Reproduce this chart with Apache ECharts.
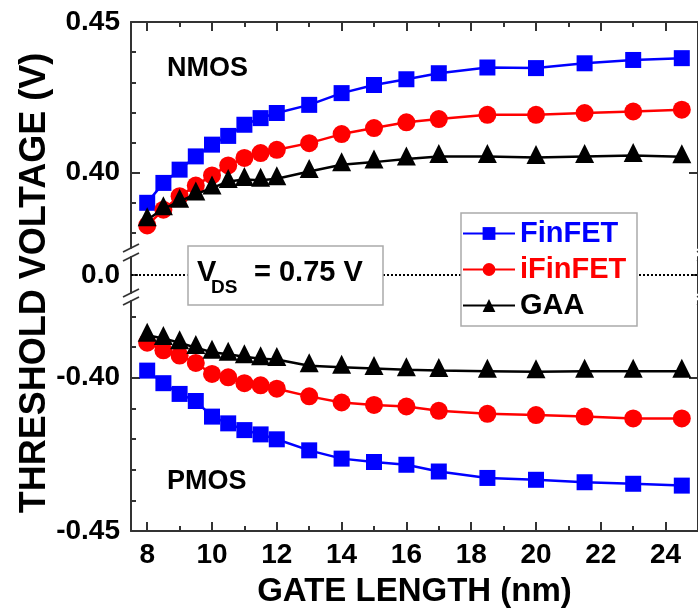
<!DOCTYPE html>
<html>
<head>
<meta charset="utf-8">
<script src="https://cdn.jsdelivr.net/npm/echarts@6/dist/echarts.min.js"></script>
<style>html,body{margin:0;padding:0;background:#fff}#c{width:698px;height:612px}</style>
</head>
<body>
<div id="c"></div>
<script>
// ---- data ----
const gateLength = [8, 8.5, 9, 9.5, 10, 10.5, 11, 11.5, 12, 13, 14, 15, 16, 17, 18.5, 20, 21.5, 23, 24.5];
const finfetN  = [0.3900, 0.3966, 0.4010, 0.4054, 0.4093, 0.4122, 0.4159, 0.4181, 0.4198, 0.4225, 0.4264, 0.4291, 0.4310, 0.4330, 0.4349, 0.4347, 0.4363, 0.4374, 0.4380];
const ifinfetN = [0.3825, 0.3877, 0.3922, 0.3957, 0.3991, 0.4024, 0.4049, 0.4065, 0.4076, 0.4098, 0.4128, 0.4148, 0.4167, 0.4178, 0.4192, 0.4192, 0.4198, 0.4203, 0.4209];
const gaaN     = [0.3844, 0.3880, 0.3905, 0.3929, 0.3949, 0.3971, 0.3977, 0.3975, 0.3980, 0.4004, 0.4026, 0.4035, 0.4045, 0.4054, 0.4054, 0.4050, 0.4054, 0.4057, 0.4053];
const finfetP  = [-0.3977, -0.4018, -0.4053, -0.4076, -0.4127, -0.4149, -0.4171, -0.4185, -0.4201, -0.4237, -0.4264, -0.4275, -0.4284, -0.4306, -0.4327, -0.4333, -0.4341, -0.4346, -0.4352];
const ifinfetP = [-0.3886, -0.3911, -0.3928, -0.3952, -0.3988, -0.3999, -0.4018, -0.4025, -0.4036, -0.4061, -0.4081, -0.4089, -0.4094, -0.4108, -0.4118, -0.4122, -0.4127, -0.4133, -0.4133];
const gaaP     = [-0.3862, -0.3872, -0.3886, -0.3902, -0.3917, -0.3924, -0.3932, -0.3938, -0.3941, -0.3961, -0.3966, -0.3970, -0.3974, -0.3977, -0.3979, -0.3981, -0.3979, -0.3979, -0.3979];

const seriesNames = ['FinFET', 'iFinFET', 'GAA'];
const xMajorTicks = [8, 10, 12, 14, 16, 18, 20, 22, 24];
const xMinorTicks = [9, 11, 13, 15, 17, 19, 21, 23, 25];
const yTopMajor = [0.40, 0.45];
const yTopMinor = [0.38, 0.39, 0.41, 0.42, 0.43, 0.44];
const yBotMajor = [-0.45, -0.40];
const yBotMinor = [-0.44, -0.43, -0.42, -0.41, -0.39, -0.38];
const yMidTicks = [0];

// ---- layout ----
const FONT = "'Liberation Sans', Arial, sans-serif";
const AX = '#333';
const L = 131, R = -7, RX = 705;
const G0T = 22, G0H = 226;
const G1T = 257, G1H = 36;
const G2T = 301, G2H = 230;

function pair(data) { return gateLength.map((x, i) => [x, data[i]]); }

function xAx(grid, pos, ticks, len, opt) {
  opt = opt || {};
  return {
    type: 'value', gridIndex: grid, position: pos, min: 7.5, max: 25,
    axisLine: { show: !!opt.line, onZero: false, lineStyle: { color: AX, width: 2 } },
    axisTick: { show: len > 0, inside: true, length: len, customValues: ticks, lineStyle: { color: AX, width: 2 } },
    axisLabel: opt.label ? { show: true, customValues: ticks, margin: 10, color: '#000', fontFamily: FONT, fontWeight: 'bold', fontSize: 28 } : { show: false },
    splitLine: { show: false },
    name: opt.name || '', nameLocation: 'middle', nameGap: 44,
    nameTextStyle: { color: '#000', fontFamily: FONT, fontWeight: 'bold', fontSize: 33 }
  };
}
function yAx(grid, pos, min, max, ticks, len, opt) {
  opt = opt || {};
  return {
    type: 'value', gridIndex: grid, position: pos, min: min, max: max,
    axisLine: { show: !!opt.line, onZero: false, lineStyle: { color: AX, width: 2 } },
    axisTick: { show: true, inside: true, length: len, customValues: ticks, lineStyle: { color: AX, width: 2 } },
    axisLabel: opt.label ? { show: true, customValues: ticks, margin: 11, color: '#000', fontFamily: FONT, fontWeight: 'bold', fontSize: 28, formatter: opt.fmt } : { show: false },
    splitLine: { show: false }
  };
}

const colors = ['#0000ff', '#ff0000', '#000000'];
const symbols = ['rect', 'circle', 'triangle'];
const sizes = [16, 18, 19];
const offsets = [[0, 0], [0, 0], [0, -3]];
const nData = [finfetN, ifinfetN, gaaN];
const pData = [finfetP, ifinfetP, gaaP];

const series = [];
[[nData, 0, 0], [pData, 3, 5]].forEach(([arr, xi, yi]) => {
  arr.forEach((d, k) => {
    series.push({
      name: seriesNames[k], type: 'line', xAxisIndex: xi, yAxisIndex: yi,
      data: pair(d), symbol: symbols[k], symbolSize: sizes[k], symbolOffset: offsets[k],
      showAllSymbol: true, clip: false,
      lineStyle: { color: colors[k], width: 2.5 },
      itemStyle: { color: colors[k] },
      z: 3 + k
    });
  });
});
series.push({
  type: 'line', xAxisIndex: 2, yAxisIndex: 3, data: [], silent: true, z: 1,
  markLine: {
    silent: true, symbol: 'none', label: { show: false },
    lineStyle: { color: '#000', width: 2, type: [2, 2] },
    data: [{ yAxis: 0 }]
  }
});

function slash(x, y) {
  return { type: 'line', shape: { x1: x - 8, y1: y + 4, x2: x + 8, y2: y - 4 }, style: { stroke: AX, lineWidth: 1.8 }, z: 50 };
}
const breaks = [];
[L, RX].forEach(x => {
  [G0T + G0H, G1T, G1T + G1H, G2T].forEach(y => breaks.push(slash(x, y)));
});

const chart = echarts.init(document.getElementById('c'), null, { renderer: 'canvas' });
chart.setOption({
  animation: false,
  backgroundColor: '#fff',
  grid: [
    { left: L, right: R, top: G0T, height: G0H },
    { left: L, right: R, top: G1T, height: G1H },
    { left: L, right: R, top: G2T, height: G2H }
  ],
  xAxis: [
    xAx(0, 'top', xMajorTicks, 9, { line: true }),
    xAx(0, 'top', xMinorTicks, 5),
    xAx(1, 'bottom', [], 0),
    xAx(2, 'bottom', xMajorTicks, 9, { line: true, label: true, name: 'GATE LENGTH (nm)' }),
    xAx(2, 'bottom', xMinorTicks, 5)
  ],
  yAxis: [
    yAx(0, 'left', 0.375, 0.45, yTopMajor, 9, { line: true, label: true, fmt: v => v.toFixed(2) }),
    yAx(0, 'left', 0.375, 0.45, yTopMinor, 5),
    yAx(0, 'right', 0.375, 0.45, yTopMajor, 9, { line: true }),
    yAx(1, 'left', -0.01, 0.01, yMidTicks, 7, { line: true, label: true, fmt: v => v.toFixed(1) }),
    yAx(1, 'right', -0.01, 0.01, yMidTicks, 7, { line: true }),
    yAx(2, 'left', -0.45, -0.375, yBotMajor, 9, { line: true, label: true, fmt: v => v.toFixed(2) }),
    yAx(2, 'left', -0.45, -0.375, yBotMinor, 5),
    yAx(2, 'right', -0.45, -0.375, yBotMajor, 9, { line: true })
  ],
  legend: {
    data: [
      { name: 'FinFET', textStyle: { color: '#0000ff' } },
      { name: 'iFinFET', textStyle: { color: '#ff0000' } },
      { name: 'GAA', textStyle: { color: '#000000' } }
    ],
    orient: 'vertical', left: 461, top: 213,
    itemWidth: 52, itemHeight: 16, itemGap: 7,
    padding: [6, 10, 7, 1],
    backgroundColor: 'transparent', borderWidth: 0,
    textStyle: { fontFamily: FONT, fontWeight: 'bold', fontSize: 29 },
    z: 20
  },
  graphic: [
    {
      type: 'text', x: 35, y: 283, rotation: Math.PI / 2,
      style: { text: 'THRESHOLD VOLTAGE (V)', font: "bold 36px " + FONT, fill: '#000', align: 'center', verticalAlign: 'middle' }
    },
    { type: 'text', x: 167, y: 69, style: { text: 'NMOS', font: "bold 27px " + FONT, fill: '#000', align: 'left', verticalAlign: 'middle' } },
    { type: 'text', x: 167, y: 482, style: { text: 'PMOS', font: "bold 27px " + FONT, fill: '#000', align: 'left', verticalAlign: 'middle' } },
    { type: 'rect', z: 15, shape: { x: 461, y: 213, width: 176, height: 113 }, style: { fill: '#fff', stroke: '#aaa', lineWidth: 1.5 } },
    { type: 'rect', z: 100, shape: { x: 188, y: 246, width: 195, height: 59 }, style: { fill: '#fff', stroke: '#aaa', lineWidth: 1.5 } },
    { type: 'text', z: 101, x: 197, y: 273, style: { text: 'V', font: "bold 29px " + FONT, fill: '#000', align: 'left', verticalAlign: 'middle' } },
    { type: 'text', z: 101, x: 211, y: 288, style: { text: 'DS', font: "bold 19px " + FONT, fill: '#000', align: 'left', verticalAlign: 'middle' } },
    { type: 'text', z: 101, x: 254, y: 273, style: { text: '= 0.75 V', font: "bold 29px " + FONT, fill: '#000', align: 'left', verticalAlign: 'middle' } }
  ].concat(breaks),
  series: series
});
</script>
</body>
</html>
